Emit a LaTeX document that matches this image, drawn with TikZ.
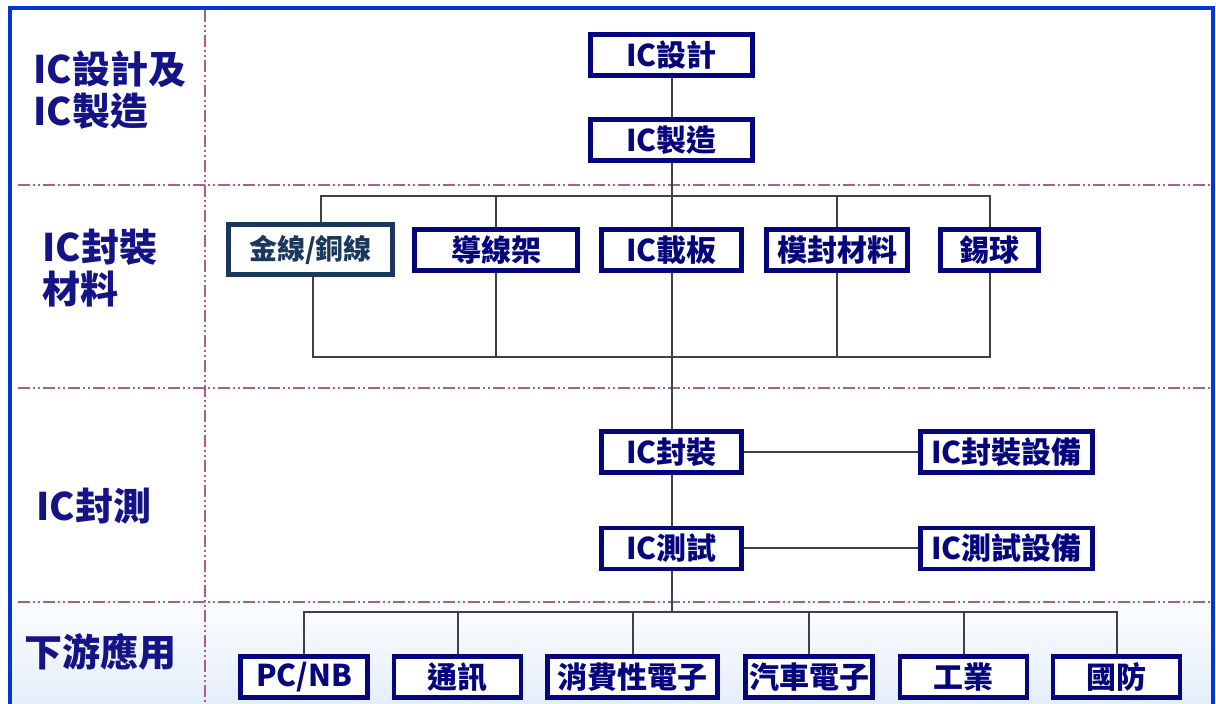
\documentclass[tikz,border=0pt]{standalone}
\usepackage{fontspec}
\setmainfont{Noto Sans CJK TC}
\usetikzlibrary{calc}
\definecolor{frameblue}{RGB}{0,55,215}
\definecolor{boxblue}{RGB}{5,5,125}
\definecolor{labelblue}{RGB}{20,20,135}
\definecolor{wireblue}{RGB}{27,55,92}
\definecolor{divline}{RGB}{170,95,135}
\definecolor{linkgray}{RGB}{65,65,65}
\definecolor{paleblue}{RGB}{228,238,250}
\tikzset{
  box/.style={draw=boxblue, line width=2.4pt, fill=white, text=boxblue,
    font=\bfseries\fontsize{15}{15}\selectfont, minimum height=20.5pt, inner sep=0pt},
  link/.style={draw=linkgray, line width=1pt},
  divider/.style={draw=divline, line width=0.8pt,
    dash pattern=on 6pt off 1.5pt on 1pt off 1.5pt on 1pt off 1.5pt},
  rowlabel/.style={anchor=west, align=left, text=labelblue, inner sep=0pt,
    font=\bfseries\fontsize{19}{21}\selectfont}
}
\begin{document}
\begin{tikzpicture}[x=0.5pt,y=-0.5pt]
  \useasboundingbox (0,0) rectangle (1216,704);
  \shade[top color=white, bottom color=paleblue] (12,590) rectangle (1212,704);
  \draw[frameblue, line width=2pt] (10,712) -- (10,8) -- (1213,8) -- (1213,712);
  \draw[divider] (18,185) -- (1211,185);
  \draw[divider] (18,388) -- (1211,388);
  \draw[divider] (18,602) -- (1211,602);
  \draw[divider] (205,10) -- (205,704);

  \node[rowlabel] (lblfab) at (33,90) {IC設計及\\IC製造};
  \node[rowlabel] (lblmat) at (42,268) {IC封裝\\材料};
  \node[rowlabel] (lblpt) at (36,506) {IC封測};
  \node[rowlabel] (lbluse) at (24,652) {下游應用};

  \node[box, minimum width=81pt] (design) at (671.5,55) {IC設計};
  \node[box, minimum width=81pt] (mfg) at (671.5,140) {IC製造};

  \node[box, draw=wireblue, text=wireblue, font=\bfseries\fontsize{14}{14}\selectfont,
    minimum width=82pt, minimum height=25pt] (wire) at (310.5,249.5) {金線/銅線};
  \node[box, minimum width=81.5pt] (lead) at (496,250) {導線架};
  \node[box, minimum width=70pt] (sub) at (671.5,250) {IC載板};
  \node[box, minimum width=70.5pt] (mold) at (837,250) {模封材料};
  \node[box, minimum width=49pt] (ball) at (989.5,250) {錫球};

  \node[box, minimum width=70pt] (pkg) at (671.5,452) {IC封裝};
  \node[box, minimum width=86pt] (pkgeq) at (1006.5,452) {IC封裝設備};
  \node[box, minimum width=70pt] (test) at (671.5,548.5) {IC測試};
  \node[box, minimum width=86pt] (testeq) at (1006.5,548.5) {IC測試設備};

  \node[box, minimum width=63.5pt] (pc) at (304,677) {PC/NB};
  \node[box, minimum width=63.5pt] (com) at (457.5,677) {通訊};
  \node[box, minimum width=85pt] (cons) at (632.5,677) {消費性電子};
  \node[box, minimum width=63.5pt] (car) at (809,677) {汽車電子};
  \node[box, minimum width=63.5pt] (ind) at (963.5,677) {工業};
  \node[box, minimum width=63.5pt] (def) at (1116.5,677) {國防};

  \coordinate (bus1) at (0,196);
  \coordinate (bus2) at (0,357);
  \coordinate (bus3) at (0,612);

  \draw[link] (design) -- (mfg);
  \draw[link] (mfg) -- (sub);
  \draw[link] ([xshift=5pt]wire.north) |- (ball.north |- bus1) -- (ball.north);
  \foreach \n in {lead,mold} \draw[link] (\n.north) -- (\n.north |- bus1);
  \draw[link] ([xshift=1pt]wire.south) |- (ball.south |- bus2) -- (ball.south);
  \foreach \n in {lead,mold} \draw[link] (\n.south) -- (\n.south |- bus2);
  \draw[link] (sub) -- (pkg);
  \draw[link] (pkg) -- (pkgeq);
  \draw[link] (pkg) -- (test);
  \draw[link] (test) -- (testeq);
  \draw[link] (test) -- (test |- bus3);
  \draw[link] (pc.north) |- (def.north |- bus3) -- (def.north);
  \foreach \n in {com,cons,car,ind} \draw[link] (\n.north) -- (\n.north |- bus3);
\end{tikzpicture}
\end{document}
